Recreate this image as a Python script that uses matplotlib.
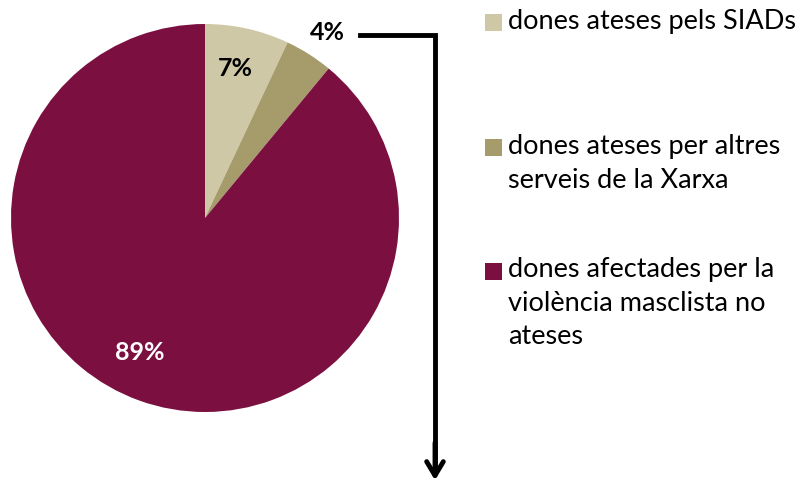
import matplotlib.pyplot as plt
from matplotlib.patches import Rectangle
from matplotlib.lines import Line2D

plt.rcParams["font.family"] = ["Lato", "DejaVu Sans"]

# data
categories = [
    "dones ateses pels SIADs",
    "dones ateses per altres\nserveis de la Xarxa",
    "dones afectades per la\nviolència masclista no\nateses",
]
shares = [7, 4, 89]
colors = ["#CEC8A6", "#A59B6B", "#7B1040"]

W, H = 809, 486
fig = plt.figure(figsize=(W / 100, H / 100), dpi=100)

# pie axes placed in pixel terms: centre (205, 218), radius 194
cx, cy, r = 205, 218, 194
ax = fig.add_axes([(cx - r) / W, (H - cy - r) / H, 2 * r / W, 2 * r / H])
wedges, _ = ax.pie(shares, colors=colors, startangle=90, counterclock=False,
                   radius=1.0, wedgeprops=dict(linewidth=0))
ax.set_xlim(-1, 1)
ax.set_ylim(-1, 1)
ax.set_aspect("equal")
ax.axis("off")

# slice labels (pixel positions of the reference)
label_pos = [(235, 68, "black"), (327, 33, "black"), (140, 352, "white")]
for val, (x, y, c) in zip(shares, label_pos):
    fig.text(x / W, 1 - y / H, f"{val}%", ha="center", va="center",
             fontsize=18, fontweight="bold", color=c)

# arrow from the 4% label down past the chart
fig.add_artist(Line2D([360 / W, 435 / W, 435 / W],
                      [1 - 35 / H, 1 - 35 / H, 1 - 470 / H],
                      transform=fig.transFigure, color="black", lw=3.5,
                      solid_joinstyle="miter"))
ax.annotate("", xy=(435, H - 483), xytext=(435, H - 440),
            xycoords="figure pixels", textcoords="figure pixels",
            arrowprops=dict(arrowstyle="->,head_length=1.0,head_width=0.6",
                            color="black", lw=3.5))

# legend, drawn by hand so entries are evenly spaced
first_line_y = [23, 148, 271]
for lab, col, y in zip(categories, colors, first_line_y):
    fig.add_artist(Rectangle((485 / W, 1 - (y + 8.5) / H), 17 / W, 17 / H,
                             transform=fig.transFigure, color=col, lw=0))
    fig.text(508 / W, 1 - (y - 14) / H, lab, ha="left", va="top",
             fontsize=19.5, color="black", linespacing=1.43)

fig.savefig("out.png", dpi=100)
